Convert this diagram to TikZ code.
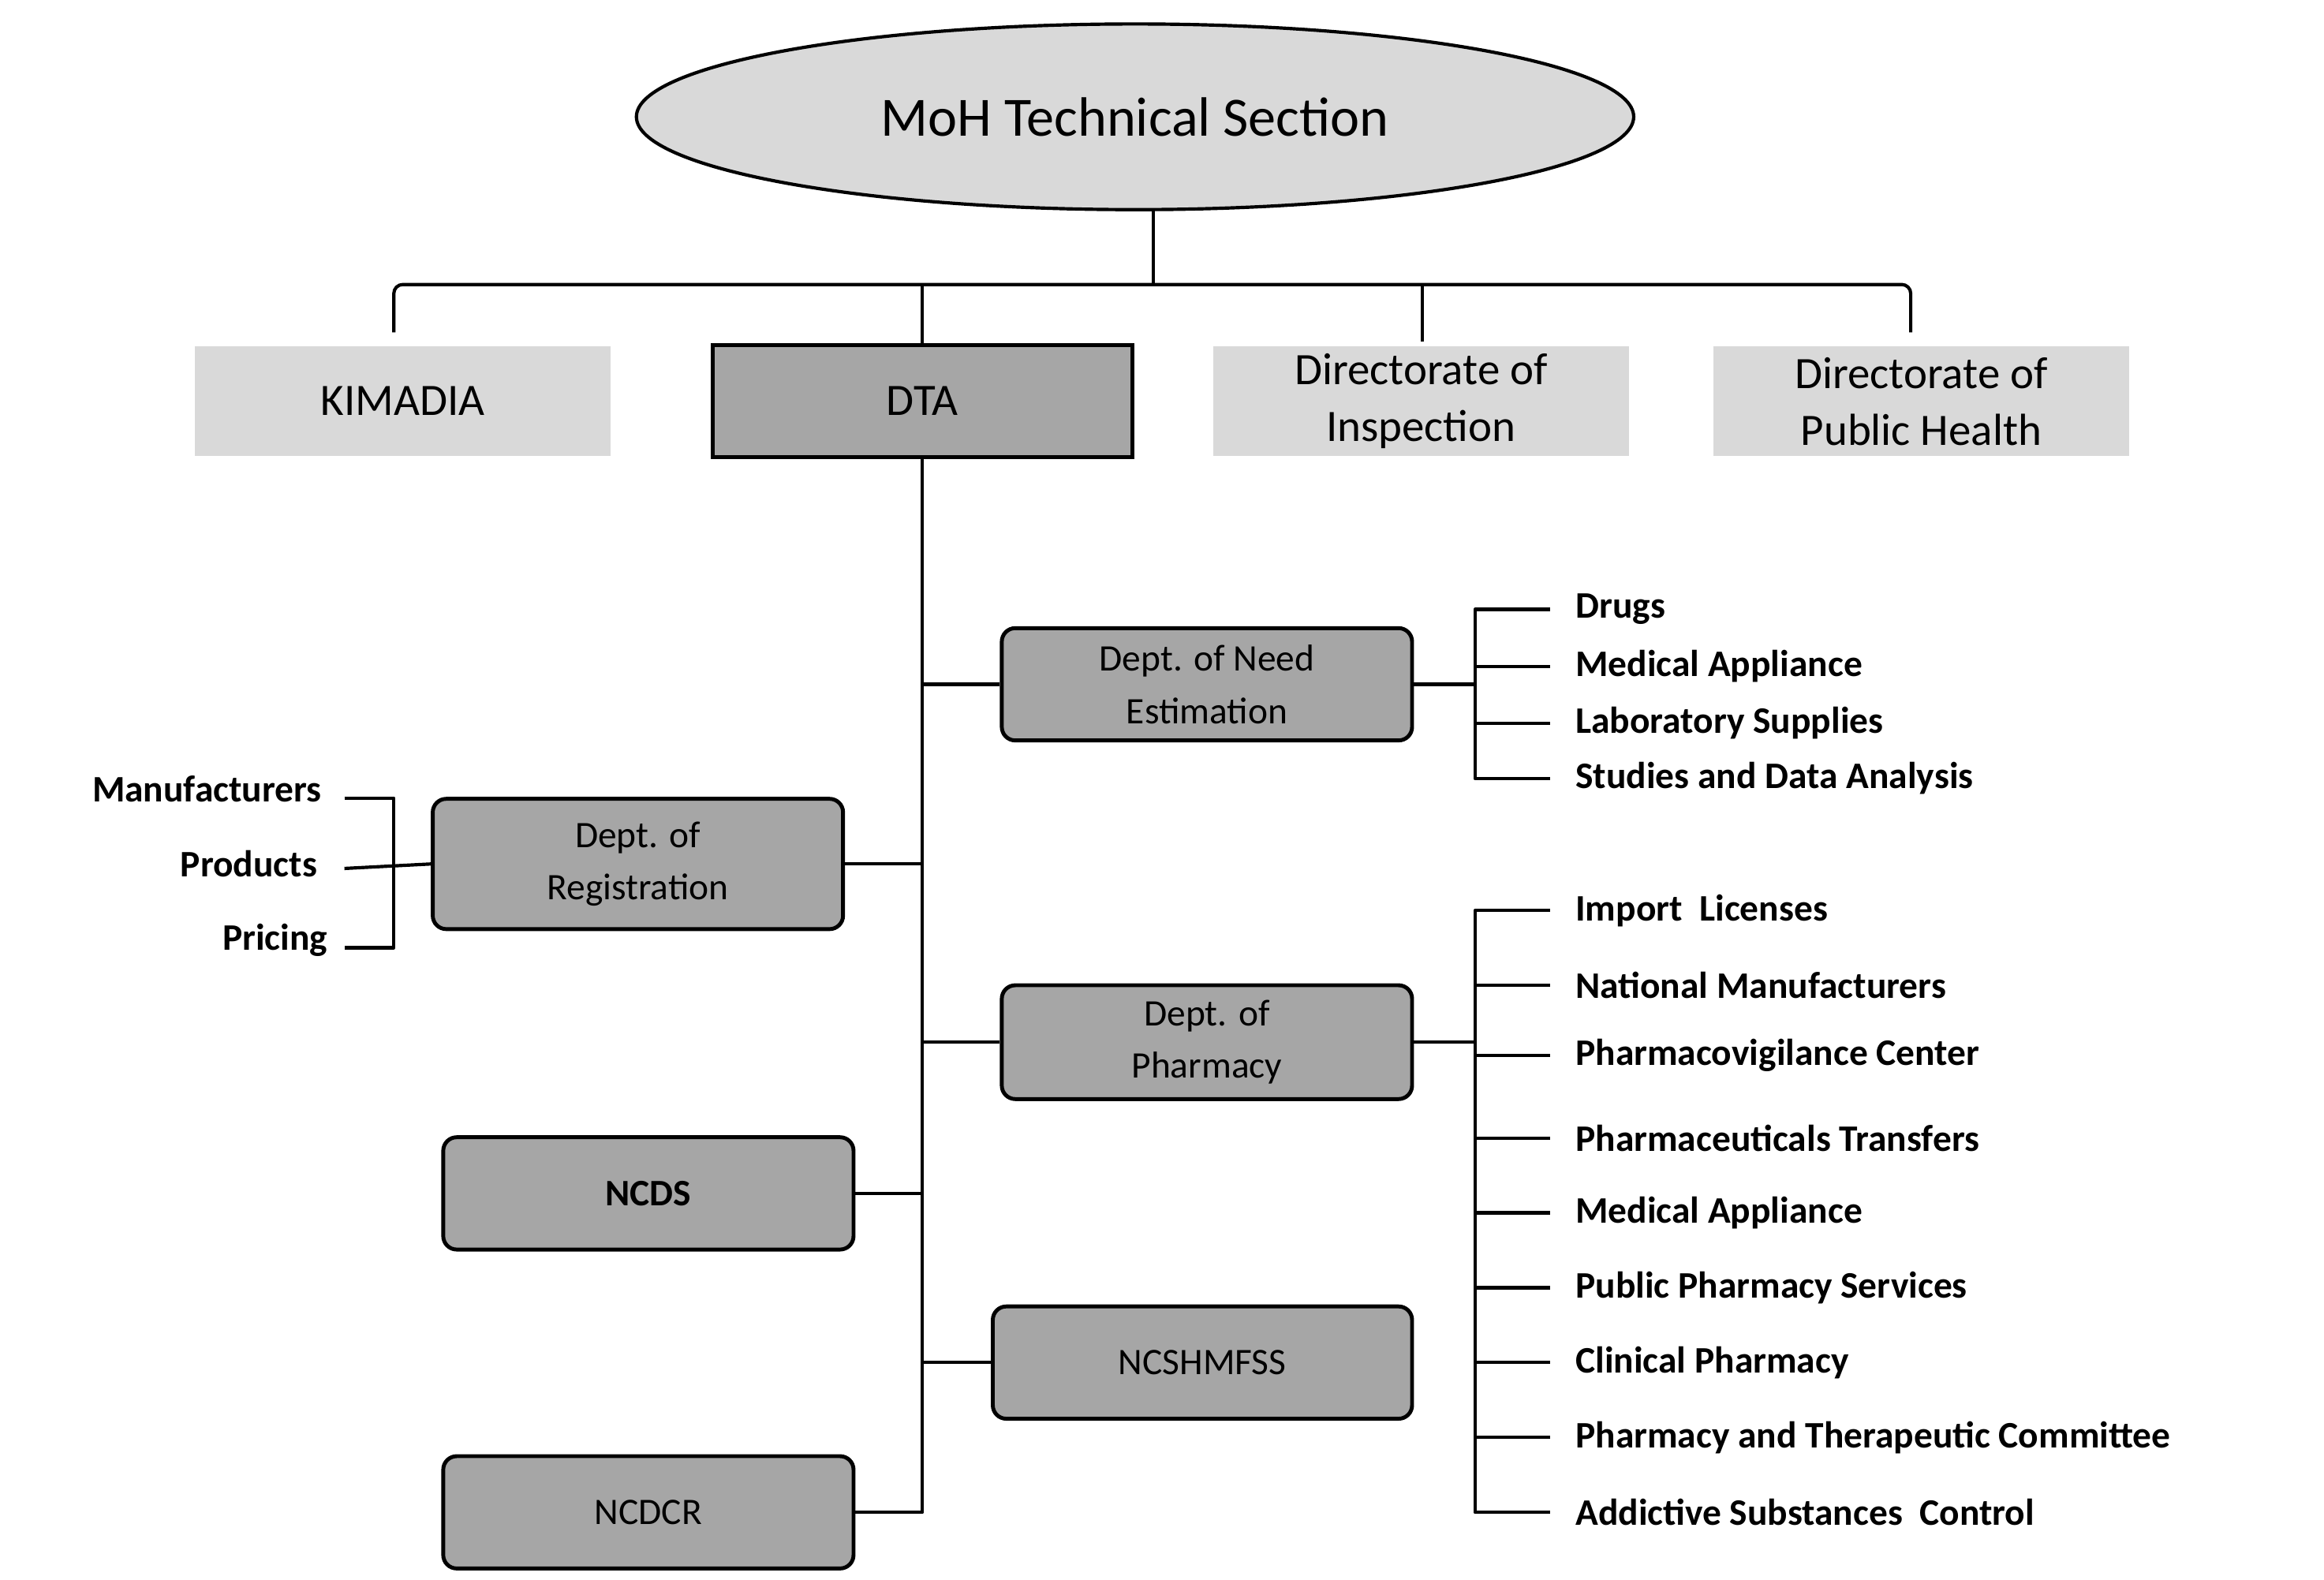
\documentclass[tikz,border=0pt]{standalone}
\usepackage{fontspec}
\setmainfont{Carlito}
\usetikzlibrary{shapes.geometric}
\definecolor{lg}{HTML}{D9D9D9}
\definecolor{dg}{HTML}{A6A6A6}
\begin{document}
\begin{tikzpicture}[x=1pt,y=-1pt,
 ln/.style={line width=2.2pt,line join=round},
 top/.style={fill=lg,minimum width=278pt,minimum height=73pt,align=center,font=\fontsize{30}{38}\selectfont,inner sep=0pt},
 dept/.style={draw,line width=2.6pt,rounded corners=9pt,fill=dg,minimum width=274pt,minimum height=75pt,align=center,font=\fontsize{25}{35}\selectfont,inner sep=0pt},
 lab/.style={font=\bfseries\fontsize{25}{30}\selectfont,anchor=west,inner sep=0pt},
 labl/.style={font=\bfseries\fontsize{25}{30}\selectfont,anchor=east,inner sep=0pt}]
\useasboundingbox (0,0) rectangle (1552,1055);
\node[ellipse,draw,line width=2.2pt,fill=lg,minimum width=666pt,minimum height=124pt,font=\fontsize{37}{44}\selectfont] (moh) at (758,78) {MoH Technical Section};
\node[top] (kim) at (269,268) {KIMADIA};
\node[top,draw,line width=2.6pt,fill=dg,minimum width=280pt,minimum height=75pt] (dta) at (616,268) {DTA};
\node[top] (ins) at (949,268) {Directorate of\\Inspection};
\node[top] (pub) at (1283,268) {Directorate of\\Public Health};
\coordinate (b0) at (770,190);
\draw[ln] (moh.south -| b0) -- (b0);
\draw[ln,rounded corners=6pt] (263,222) -- (263,190) -- (1276,190) -- (1276,222);
\draw[ln] (616,190) -- (dta.north);
\draw[ln] (950,190) -- (950,228);
\node[dept] (need) at (806,457) {Dept. of Need\\Estimation};
\node[dept,minimum height=87pt] (reg) at (426,577) {Dept. of\\Registration};
\node[dept,minimum height=76pt] (pha) at (806,696) {Dept. of\\Pharmacy};
\node[dept,font=\bfseries\fontsize{25}{30}\selectfont] (ncds) at (433,797) {NCDS};
\node[dept,minimum width=280pt] (ncsh) at (803,910) {NCSHMFSS};
\node[dept] (ncdcr) at (433,1010) {NCDCR};
\coordinate (t) at (616,1010);
\draw[ln] (dta.south) -- (t) -- (ncdcr.east);
\draw[ln] (616,457) -- (need.west);
\draw[ln] (reg.east) -- (616,577);
\draw[ln] (616,696) -- (pha.west);
\draw[ln] (ncds.east) -- (616,797);
\draw[ln] (616,910) -- (ncsh.west);
% need estimation bracket
\draw[ln] (need.east) -- (985,457);
\draw[ln] (1035,407) -- (985,407) -- (985,520) -- (1035,520);
\foreach \y/\t in {407/Drugs,445/Medical Appliance,483/Laboratory Supplies,520/Studies and Data Analysis}{
 \draw[ln] (985,\y) -- (1035,\y);
 \node[lab] at (1052,\y) {\t};}
% registration bracket
\draw[ln] (230,533) -- (263,533) -- (263,633) -- (230,633);
\draw[ln] (230,580) -- (reg.west);
\node[labl] at (215,527) {Manufacturers};
\node[labl] at (212,577) {Products};
\node[labl] at (219,628) {Pricing};
% pharmacy bracket
\draw[ln] (pha.east) -- (985,696);
\draw[ln] (1035,608) -- (985,608) -- (985,1010) -- (1035,1010);
\foreach \y/\t in {608/Import\ \ Licenses,658/National Manufacturers,705/Pharmacovigilance Center,760/Pharmaceuticals Transfers,810/Medical Appliance,860/Public Pharmacy Services,910/Clinical Pharmacy,960/Pharmacy and Therapeutic Committee,1010/Addictive Substances\ \ Control}{
 \draw[ln] (985,\y) -- (1035,\y);
 \node[lab] at (1052,\y) {\t};}
\end{tikzpicture}
\end{document}
